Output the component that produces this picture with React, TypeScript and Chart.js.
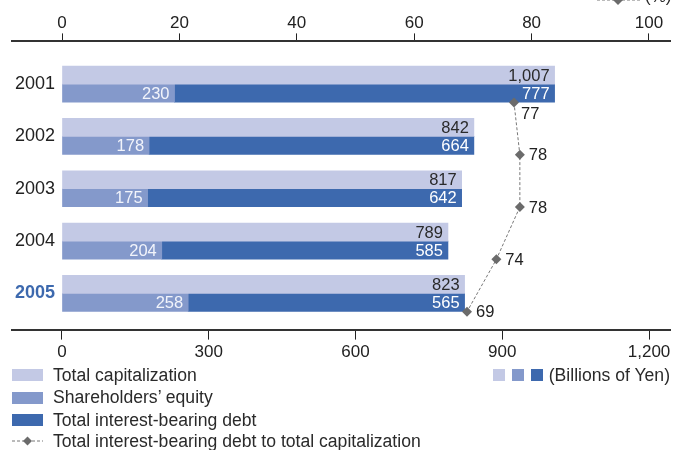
import React, { useEffect, useRef } from 'react';
import { Chart, registerables } from 'chart.js';

Chart.register(...registerables);

const years = ['2001', '2002', '2003', '2004', '2005'];
const totalCapitalization = [1007, 842, 817, 789, 823];
const shareholdersEquity = [230, 178, 175, 204, 258];
const interestBearingDebt = [777, 664, 642, 585, 565];
const debtRatio = [77, 78, 78, 74, 69];
const valueTicks = [0, 300, 600, 900, 1200];
const ratioTicks = [0, 20, 40, 60, 80, 100];

const LIGHT = '#c3c9e5';
const MID = '#8499cb';
const DARK = '#3d69ae';
const LINE = '#6b6b6b';
const FONT = '"Liberation Sans", Arial, Helvetica, sans-serif';

const barLabelColors = ['#2a2a2a', '#f2f4fb', '#ffffff'];
const fmt = (v: number) => v.toLocaleString('en-US');

const labelPlugin = {
  id: 'valueLabels',
  afterDatasetsDraw(chart: any) {
    const ctx = chart.ctx;
    ctx.save();
    ctx.font = `16.5px ${FONT}`;
    ctx.textBaseline = 'middle';
    const capMeta = chart.getDatasetMeta(0);
    chart.data.datasets.forEach((ds: any, di: number) => {
      const meta = chart.getDatasetMeta(di);
      if (meta.type === 'bar') {
        meta.data.forEach((el: any, i: number) => {
          ctx.fillStyle = barLabelColors[di];
          ctx.textAlign = 'right';
          ctx.fillText(fmt(ds.data[i].x), el.x - 5, el.y + 1);
        });
      } else {
        meta.data.forEach((el: any, i: number) => {
          const overlaps = el.x < capMeta.data[i].x;
          ctx.fillStyle = '#222';
          ctx.textAlign = 'left';
          ctx.fillText(String(ds.data[i].x), el.x + (overlaps ? 7 : 9), el.y + (overlaps ? 12 : 1));
        });
      }
    });
    ctx.restore();
  },
};

const legendItems = [
  { label: 'Total capitalization', color: LIGHT },
  { label: 'Shareholders\u2019 equity', color: MID },
  { label: 'Total interest-bearing debt', color: DARK },
];

export default function App() {
  const canvasRef = useRef<HTMLCanvasElement | null>(null);

  useEffect(() => {
    if (!canvasRef.current) return;
    Chart.defaults.font.family = FONT;
    const groupHalf = 0.35;
    const chart = new Chart(canvasRef.current, {
      type: 'bar',
      data: {
        datasets: [
          {
            label: 'Total capitalization',
            data: totalCapitalization.map((v, i) => ({ x: v, y: i })),
            backgroundColor: LIGHT,
            stack: 'cap',
            xAxisID: 'x',
            yAxisID: 'y',
            barThickness: 18,
            borderWidth: 0,
          },
          {
            label: 'Shareholders\u2019 equity',
            data: shareholdersEquity.map((v, i) => ({ x: v, y: i })),
            backgroundColor: MID,
            stack: 'parts',
            xAxisID: 'x',
            yAxisID: 'y',
            barThickness: 18,
            borderWidth: 0,
          },
          {
            label: 'Total interest-bearing debt',
            data: interestBearingDebt.map((v, i) => ({ x: v, y: i })),
            backgroundColor: DARK,
            stack: 'parts',
            xAxisID: 'x',
            yAxisID: 'y',
            barThickness: 18,
            borderWidth: 0,
          },
          {
            type: 'line',
            label: 'Total interest-bearing debt to total capitalization',
            data: debtRatio.map((v, i) => ({ x: v, y: i + groupHalf })),
            indexAxis: 'y',
            xAxisID: 'x2',
            yAxisID: 'y',
            borderColor: '#777',
            borderWidth: 1,
            borderDash: [3, 2],
            pointStyle: 'rectRot',
            pointRadius: 5,
            pointBackgroundColor: LINE,
            pointBorderWidth: 0,
            fill: false,
            tension: 0,
            order: -1,
          } as any,
        ],
      },
      options: {
        indexAxis: 'y',
        responsive: false,
        animation: false,
        devicePixelRatio: 1,
        layout: { padding: { left: 6, right: 10, top: 13, bottom: 84 } },
        plugins: { legend: { display: false }, tooltip: { enabled: false } },
        scales: {
          y: {
            type: 'linear',
            position: 'left',
            reverse: true,
            offset: false,
            min: -0.817,
            max: 4.693,
            afterBuildTicks: (scale: any) => {
              scale.ticks = years.map((_, i) => ({ value: i }));
            },
            grid: { display: false, drawTicks: false, tickLength: 0, offset: false },
            border: { display: false },
            ticks: {
              mirror: true,
              crossAlign: 'far',
              padding: 3,
              callback: (v: any) => years[v] ?? '',
              color: (c: any) => (c.index === years.length - 1 ? DARK : '#222'),
              font: (c: any) =>
                c.index === years.length - 1
                  ? { size: 18, weight: 'bold', family: FONT }
                  : { size: 18, family: FONT },
            },
          },
          x: {
            type: 'linear',
            position: 'bottom',
            min: -102.2,
            max: 1242.9,
            afterBuildTicks: (scale: any) => {
              scale.ticks = valueTicks.map((v) => ({ value: v }));
            },
            grid: {
              display: true,
              drawOnChartArea: false,
              drawTicks: true,
              tickLength: 10,
              tickWidth: 1,
              tickColor: '#222',
            },
            border: { display: true, color: '#333', width: 2 },
            ticks: {
              padding: 3,
              color: '#222',
              font: { size: 17, family: FONT },
              callback: (v: any) => fmt(Number(v)),
            },
          },
          x2: {
            type: 'linear',
            position: 'top',
            min: -8.52,
            max: 103.58,
            afterBuildTicks: (scale: any) => {
              scale.ticks = ratioTicks.map((v) => ({ value: v }));
            },
            grid: {
              display: true,
              drawOnChartArea: false,
              drawTicks: true,
              tickLength: 8,
              tickWidth: 1,
              tickColor: '#222',
            },
            border: { display: true, color: '#333', width: 2 },
            ticks: {
              padding: 0,
              color: '#222',
              font: { size: 17, family: FONT },
              callback: (v: any) => String(v),
            },
          },
        },
      } as any,
      plugins: [labelPlugin],
    });
    return () => chart.destroy();
  }, []);

  const textStyle: React.CSSProperties = {
    fontFamily: FONT,
    fontSize: 17.6,
    color: '#2a2a2a',
    whiteSpace: 'nowrap',
  };

  return (
    <div
      style={{
        position: 'fixed',
        left: 0,
        top: 0,
        width: 680,
        height: 450,
        background: '#fff',
        overflow: 'hidden',
      }}
    >
      <canvas ref={canvasRef} width={680} height={450} style={{ position: 'absolute', left: 0, top: 0 }} />

      {/* top-right (%) marker, cut off at top */}
      <svg style={{ position: 'absolute', left: 597, top: -6 }} width={44} height={12}>
        <line x1={0} y1={6} x2={44} y2={6} stroke="#777" strokeWidth={1} strokeDasharray="3 2" />
        <polygon points="21,1 26,6 21,11 16,6" fill={LINE} />
      </svg>
      <div style={{ ...textStyle, position: 'absolute', left: 645, top: -13, fontSize: 17, lineHeight: '20px' }}>(%)</div>

      {/* legend */}
      {legendItems.map((it, i) => (
        <div
          key={it.label}
          style={{
            position: 'absolute',
            left: 12,
            top: 364 + i * 22.5,
            height: 22,
            display: 'flex',
            alignItems: 'center',
          }}
        >
          <div style={{ width: 31, height: 12, background: it.color, marginRight: 10 }} />
          <span style={textStyle}>{it.label}</span>
        </div>
      ))}
      <div
        style={{
          position: 'absolute',
          left: 12,
          top: 430,
          height: 22,
          display: 'flex',
          alignItems: 'center',
        }}
      >
        <svg width={31} height={12} style={{ marginRight: 10 }}>
          <line x1={0} y1={6} x2={31} y2={6} stroke="#777" strokeWidth={1} strokeDasharray="3 2" />
          <polygon points="15.5,1.5 20,6 15.5,10.5 11,6" fill={LINE} />
        </svg>
        <span style={textStyle}>Total interest-bearing debt to total capitalization</span>
      </div>

      {/* units legend */}
      <div
        style={{
          position: 'absolute',
          right: 10,
          top: 364,
          height: 22,
          display: 'flex',
          alignItems: 'center',
        }}
      >
        <div style={{ width: 12, height: 12, background: LIGHT, marginRight: 7 }} />
        <div style={{ width: 12, height: 12, background: MID, marginRight: 7 }} />
        <div style={{ width: 12, height: 12, background: DARK, marginRight: 6 }} />
        <span style={textStyle}>(Billions of Yen)</span>
      </div>
    </div>
  );
}
